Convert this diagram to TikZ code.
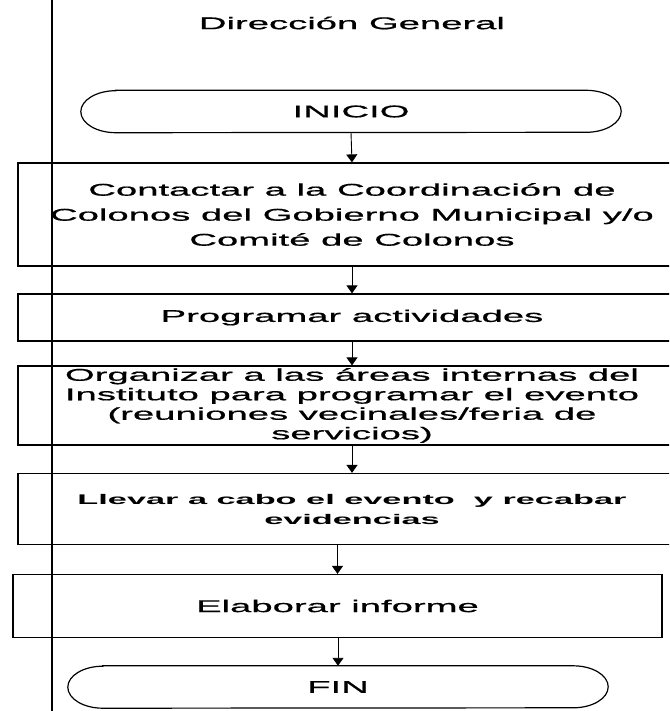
\documentclass[tikz,border=0pt]{standalone}
\usepackage{fontspec}
\setmainfont[FakeStretch=2.25,FakeBold=0.8]{Liberation Sans}
\newfontfamily\negrita[FakeStretch=2.45]{Liberation Sans}
\usetikzlibrary{arrows.meta}
\tikzset{
	caja/.style={draw,line width=1.2pt,inner sep=0pt,align=center,font=\fontsize{17}{25}\selectfont},
	terminal/.style={inner sep=0pt,minimum width=540pt,minimum height=42pt,font=\fontsize{17}{20}\selectfont},
	flecha/.style={line width=0.9pt,-{Triangle[length=8pt,width=11pt]}}
}
\begin{document}
\begin{tikzpicture}
				\useasboundingbox (0,0) rectangle (669pt,-711pt);
				\clip (0,0) rectangle (669pt,-711pt);
				\draw[line width=1.2pt] (52pt,0)--(52pt,-711pt);
				\node[font=\fontsize{17}{20}\selectfont] (titulo) at (352pt,-23pt) {Dirección General};
				\node[terminal] (inicio) at (351pt,-111.5pt) {INICIO};
				\node[caja,minimum width=668pt,minimum height=103pt] (paso1) at (352pt,-214.5pt) {Contactar a la Coordinación de\\Colonos del Gobierno Municipal y/o\\Comité de Colonos};
				\node[caja,minimum width=668pt,minimum height=47pt] (paso2) at (352pt,-317.5pt) {Programar actividades};
				\node[caja,minimum width=668pt,minimum height=79pt,font=\fontsize{17}{19.5}\selectfont] (paso3) at (352pt,-405.5pt) {Organizar a las áreas internas del\\Instituto para programar el evento\\(reuniones vecinales/feria de\\servicios)};
				\node[caja,minimum width=668pt,minimum height=71pt,font=\negrita\bfseries\fontsize{14}{20}\selectfont] (paso4) at (352pt,-509pt) {Llevar a cabo el evento\ \ y recabar\\evidencias};
				\node[caja,minimum width=649pt,minimum height=63pt] (paso5) at (337.5pt,-606pt) {Elaborar informe};
				\node[terminal] (fin) at (338pt,-687pt) {FIN};
				\foreach \n in {inicio,fin} \draw[line width=1.2pt] ([xshift=35pt]\n.north west)--([xshift=-35pt]\n.north east) arc[start angle=90,end angle=-90,x radius=35pt,y radius=21pt]--([xshift=35pt]\n.south west) arc[start angle=270,end angle=90,x radius=35pt,y radius=21pt]--cycle;
				\draw[flecha] (inicio.south)--(paso1.north);
				\foreach \a/\b in {paso1/paso2,paso2/paso3,paso3/paso4} \draw[flecha] (\a.south)--(\b.north);
				\draw[flecha] (paso4.south -| paso5.north)--(paso5.north);
				\draw[flecha] (paso5.south -| fin.north)--(fin.north);
			\end{tikzpicture}
\end{document}
